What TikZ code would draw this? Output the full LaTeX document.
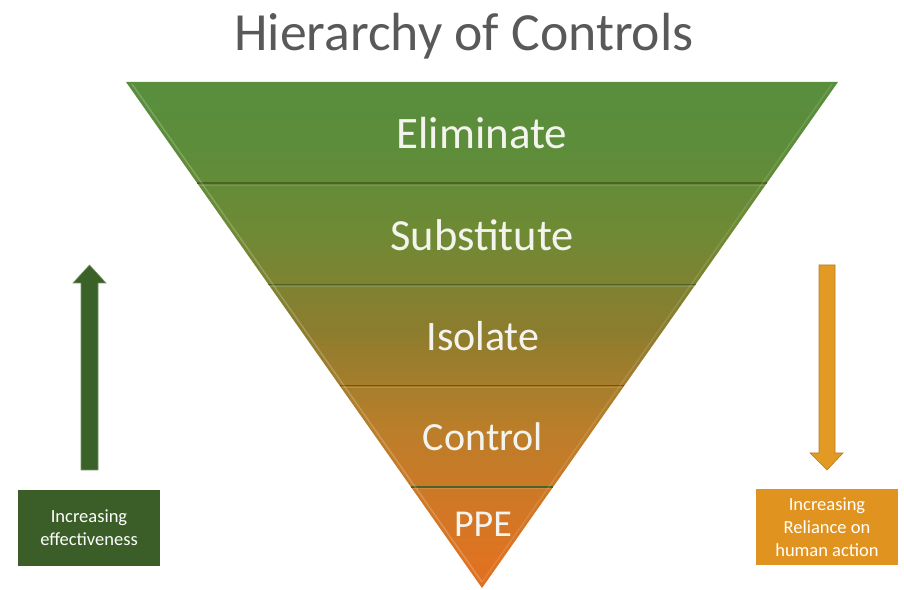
\documentclass[tikz,border=0pt]{standalone}
\usepackage{fontspec}
\setmainfont{Carlito}
\usetikzlibrary{calc}
\definecolor{titlegrey}{HTML}{595959}
\definecolor{darkgreen}{HTML}{3B5E28}
\definecolor{arrowgreen}{HTML}{3A6128}
\definecolor{boxorange}{HTML}{E0941F}
\definecolor{arroworange}{HTML}{E39A25}
\definecolor{sepline}{HTML}{4E6226}
\definecolor{layertext}{HTML}{F4F4EE}
\definecolor{sA}{HTML}{E0701F}
\definecolor{sB}{HTML}{DE7322}
\definecolor{sC}{HTML}{BC7E2A}
\definecolor{sD}{HTML}{8C7D2E}
\definecolor{sE}{HTML}{6E8A35}
\definecolor{sF}{HTML}{5C8D3B}
\definecolor{sG}{HTML}{588E3C}
\pgfdeclareverticalshading{trishade}{100bp}{%
  color(0bp)=(sA);
  color(25bp)=(sA);
  color(28bp)=(sB);
  color(40.5bp)=(sC);
  color(50.5bp)=(sD);
  color(60.5bp)=(sE);
  color(69bp)=(sF);
  color(75bp)=(sG);
  color(100bp)=(sG)}
\tikzset{
  layerlabel/.style={text=layertext, anchor=center, inner sep=0pt},
  seplinestyle/.style={draw=sepline, line width=1.4pt},
  infobox/.style={draw=none, minimum width=142pt, minimum height=76pt, text=white, align=center,
    font=\fontsize{18.5}{23}\selectfont, inner sep=0pt},
}
\begin{document}
\begin{tikzpicture}[x=1pt,y=1pt]
\useasboundingbox (0,0) rectangle (904,589);
% title
\node[text=titlegrey, font=\fontsize{53.7}{60}\selectfont, inner sep=0pt] (title) at (464,553) {Hierarchy of Controls};
% triangle
\coordinate (TL) at (126,507);
\coordinate (TR) at (838,507);
\coordinate (AP) at (482,1);
\shade[shading=trishade] (TL) -- (TR) -- (AP) -- cycle;
% separators
\foreach \t/\n in {0.2/a,0.4/b,0.6/c,0.8/d}{
  \coordinate (L\n) at ($(TL)!\t!(AP)$);
  \coordinate (R\n) at ($(TR)!\t!(AP)$);
  \draw[seplinestyle] (L\n) -- (R\n);
  \draw[white, opacity=0.12, line width=1pt] ($(L\n)+(2,-2)$) -- ($(R\n)+(-2,-2)$);
}
% bevel highlights
\draw[white, opacity=0.2, line width=1.5pt] ($(TL)+(6,-2)$) -- ($(AP)+(0,6)$);
\draw[white, opacity=0.12, line width=1.5pt] ($(TR)+(-6,-2)$) -- ($(AP)+(0,6)$);
% layer labels
\node[layerlabel, font=\fontsize{45}{48}\selectfont] (elim) at (482,456) {Eliminate};
\node[layerlabel, font=\fontsize{44.5}{48}\selectfont] (subs) at (482,354) {Substitute};
\node[layerlabel, font=\fontsize{42}{46}\selectfont] (isol) at (483,253) {Isolate};
\node[layerlabel, font=\fontsize{40}{44}\selectfont] (ctrl) at (483,152) {Control};
\node[layerlabel, font=\fontsize{38}{42}\selectfont] (ppe)  at (483,65) {PPE};
% left box and arrow
\node[infobox, fill=darkgreen] (effbox) at (89,61) {Increasing\\effectiveness};
\fill[arrowgreen, draw=arrowgreen!70!white, line width=0.6pt]
  (81,119) -- (81,306) -- (73,306) -- (89.5,324) -- (106,306) -- (98,306) -- (98,119) -- cycle;
% right box and arrow
\node[infobox, fill=boxorange] (relbox) at (827,62) {Increasing\\Reliance on\\human action};
\fill[arroworange, draw=arroworange!80!black, line width=0.6pt]
  (819,324) -- (835,324) -- (835,136) -- (843,136) -- (827,119) -- (810,136) -- (819,136) -- cycle;
\end{tikzpicture}
\end{document}
